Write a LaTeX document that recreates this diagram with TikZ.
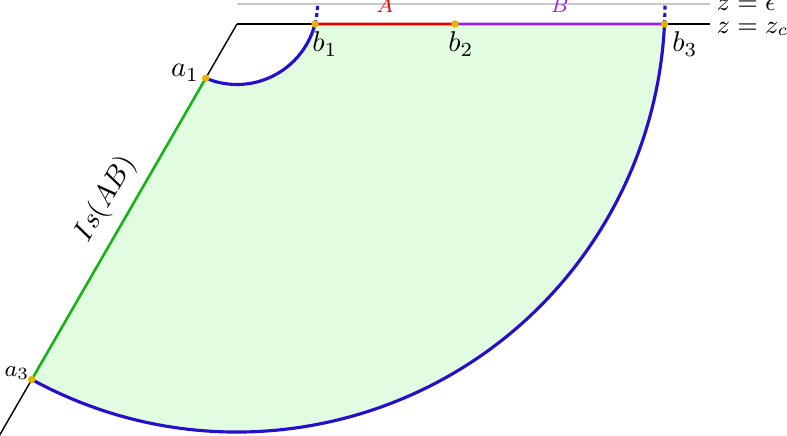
\documentclass[tikz,border=0pt]{standalone}
\usetikzlibrary{calc}
\definecolor{arcblue}{RGB}{35,15,205}
\definecolor{isgreen}{RGB}{20,180,20}
\definecolor{segred}{RGB}{230,0,0}
\definecolor{segpurple}{RGB}{160,30,220}
\definecolor{dotgold}{RGB}{230,180,0}
\definecolor{cutgrey}{RGB}{200,200,200}
\definecolor{fillgreen}{RGB}{226,252,226}
\tikzset{
  geod/.style={draw=arcblue, line width=1.1pt},
  geoddash/.style={draw=arcblue, line width=1.1pt, dash pattern=on 1.4pt off 1.1pt},
  bnd/.style={draw=black, line width=0.5pt},
  pt/.style={circle, fill=dotgold, inner sep=0pt, minimum size=2.6pt},
  lab/.style={inner sep=1pt},
  zlab/.style={inner sep=0pt, anchor=west, font=\small}
}
\begin{document}
\begin{tikzpicture}[x=0.35pt,y=0.35pt]
\useasboundingbox (0,0) rectangle (787,-436);
% key points
\coordinate (O) at (237,-4);
\coordinate (C) at (237,-24);
\coordinate (b1) at ($(O)+(-14.38:80.5)$);
\coordinate (b2) at (455,-24);
\coordinate (b3) at ($(O)+(-2.68:428)$);
\coordinate (a1) at ($(O)+(-112.86:80.5)$);
\coordinate (a3) at ($(O)+(-118.66:428)$);
\coordinate (wend) at ($(C)+(240:480)$);
\coordinate (eE) at (710,-4);
\coordinate (cE) at (710,-24);
% fill
\fill[fillgreen] (b1) arc[start angle=-14.38, end angle=-112.86, radius=80.5]
  -- (a3) arc[start angle=-118.66, end angle=-2.68, radius=428] -- cycle;
% cut-off lines
\draw[cutgrey, line width=0.7pt] (O) -- (eE);
\draw[bnd] (C) -- (cE);
\draw[bnd] (C) -- (a1);
\draw[bnd] (a3) -- (wend);
% boundary segments
\draw[segred, line width=1pt] (b1) -- node[above=0.3pt, font=\scriptsize, text=segred] {$A$} (b2);
\draw[segpurple, line width=1pt] (b2) -- node[above=0.3pt, font=\scriptsize, text=segpurple] {$B$} (b3);
% island
\draw[isgreen, line width=0.9pt] (a3) -- node[pos=0.555, sloped, above=0.5pt, text=black] {$Is(AB)$} (a1);
% geodesics
\draw[geod] (b1) arc[start angle=-14.38, end angle=-112.86, radius=80.5];
\draw[geod] (a3) arc[start angle=-118.66, end angle=-2.68, radius=428];
\draw[geoddash] (b1) arc[start angle=-14.38, end angle=0, radius=80.5];
\draw[geoddash] (b3) arc[start angle=-2.68, end angle=0, radius=428];
% dots
\node[pt] (pb1) at (b1) {};
\node[pt] (pb2) at (b2) {};
\node[pt] (pb3) at (b3) {};
\node[pt] (pa1) at (a1) {};
\node[pt] (pa3) at (a3) {};
% labels
\node[lab] (lb1) at (325,-44) {$b_1$};
\node[lab] (lb2) at (461,-44) {$b_2$};
\node[lab] (lb3) at (685,-44) {$b_3$};
\node[lab] (la1) at (185,-73) {$a_1$};
\node[lab, font=\footnotesize] (la3) at (17,-373) {$a_3$};
\node[zlab] (le) at (716,-5) {$z=\epsilon$};
\node[zlab] (lc) at (716,-29) {$z=z_c$};
\end{tikzpicture}
\end{document}
